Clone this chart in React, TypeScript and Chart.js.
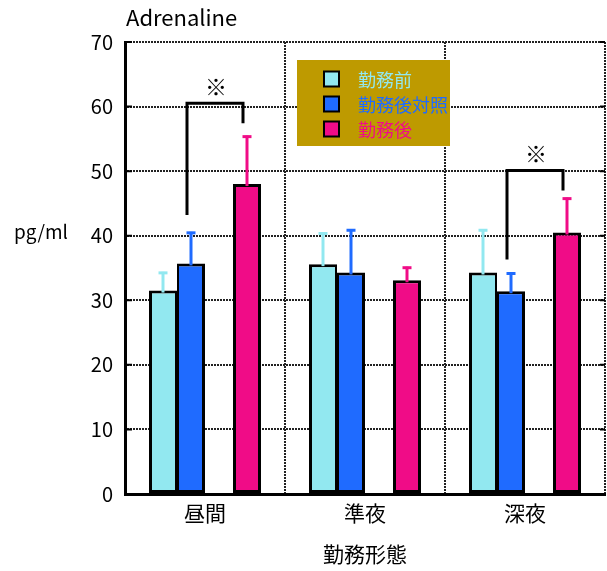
import React, { useEffect, useRef } from 'react';
import { Chart, registerables } from 'chart.js';

Chart.register(...registerables);

const categories = ['昼間', '準夜', '深夜'];
const seriesLabels = ['勤務前', '勤務後対照', '勤務後'];
const seriesColors = ['#92E8F0', '#1F6BFF', '#F00C87'];
const preValues = [31.5, 35.6, 34.3];
const controlValues = [35.7, 34.3, 31.4];
const postValues = [48.0, 33.1, 40.5];
const spacerValues = [null, null, null];
const preErrors = [2.9, 4.9, 6.7];
const controlErrors = [4.9, 6.7, 2.9];
const postErrors = [7.5, 2.1, 5.4];
const yMin = 0;
const yMax = 70;
const yStep = 10;
const bracketCategoryIndex = [0, 2];
const bracketTopValues = [60.5, 50.1];
const bracketLeftEndValues = [43.2, 36.3];
const bracketRightEndValues = [57.4, 47.0];
const bracketMark = '※';
const chartTitle = 'Adrenaline';
const yAxisTitle = 'pg/ml';
const xAxisTitle = '勤務形態';

const FONT = '"Noto Sans CJK JP", "Noto Sans", sans-serif';

// dataset index -> error array
const errorMap: Record<number, number[]> = { 0: preErrors, 1: controlErrors, 3: postErrors };

const errorBarPlugin = {
  id: 'errorBars',
  afterDatasetsDraw(chart: any) {
    const ctx = chart.ctx;
    const y = chart.scales.y;
    ctx.save();
    Object.keys(errorMap).forEach((k) => {
      const di = Number(k);
      const meta = chart.getDatasetMeta(di);
      const vals = chart.data.datasets[di].data as number[];
      const errs = errorMap[di];
      const color = chart.data.datasets[di].backgroundColor as string;
      meta.data.forEach((el: any, j: number) => {
        const v = vals[j];
        if (v == null) return;
        const top = y.getPixelForValue(v + errs[j]);
        const base = y.getPixelForValue(v) + 2;
        ctx.strokeStyle = color;
        ctx.lineWidth = 3;
        ctx.beginPath();
        ctx.moveTo(el.x, base);
        ctx.lineTo(el.x, top);
        ctx.stroke();
        ctx.beginPath();
        ctx.moveTo(el.x - 4.5, top + 1);
        ctx.lineTo(el.x + 4.5, top + 1);
        ctx.stroke();
      });
    });
    ctx.restore();
  },
};

const bracketPlugin = {
  id: 'brackets',
  afterDatasetsDraw(chart: any) {
    const ctx = chart.ctx;
    const y = chart.scales.y;
    const metaL = chart.getDatasetMeta(1);
    const metaR = chart.getDatasetMeta(3);
    ctx.save();
    ctx.strokeStyle = '#000';
    ctx.lineWidth = 3;
    ctx.lineCap = 'butt';
    bracketCategoryIndex.forEach((c, i) => {
      const xl = metaL.data[c].x - 4;
      const xr = metaR.data[c].x - 4;
      const yt = y.getPixelForValue(bracketTopValues[i]);
      const yl = y.getPixelForValue(bracketLeftEndValues[i]);
      const yr = y.getPixelForValue(bracketRightEndValues[i]);
      ctx.beginPath();
      ctx.moveTo(xl, yl);
      ctx.lineTo(xl, yt);
      ctx.lineTo(xr, yt);
      ctx.lineTo(xr, yr);
      ctx.stroke();
      ctx.fillStyle = '#000';
      ctx.font = `22px ${FONT}`;
      ctx.textAlign = 'center';
      ctx.textBaseline = 'middle';
      ctx.fillText(bracketMark, (xl + xr) / 2 + 1, yt - 17);
    });
    ctx.restore();
  },
};

const decorPlugin = {
  id: 'decor',
  afterDraw(chart: any) {
    const ctx = chart.ctx;
    const area = chart.chartArea;
    const y = chart.scales.y;
    ctx.save();
    // inward tick marks
    ctx.strokeStyle = '#000';
    ctx.lineWidth = 2;
    for (let v = yMin + yStep; v <= yMax; v += yStep) {
      const py = y.getPixelForValue(v);
      ctx.beginPath();
      ctx.moveTo(area.left, py);
      ctx.lineTo(area.left + 7, py);
      ctx.moveTo(area.right - 5, py);
      ctx.lineTo(area.right, py);
      ctx.stroke();
    }
    // title
    ctx.fillStyle = '#000';
    ctx.font = `22px ${FONT}`;
    ctx.textAlign = 'left';
    ctx.textBaseline = 'middle';
    ctx.fillText(chartTitle, area.left + 1, 18);
    // y axis title (horizontal)
    ctx.font = `19px ${FONT}`;
    ctx.fillText(yAxisTitle, 14, 232);
    // legend
    const lx = area.left + 172;
    const ly = 60;
    ctx.fillStyle = '#BE9A00';
    ctx.fillRect(lx, ly, 153, 86);
    ctx.font = `18px ${FONT}`;
    seriesLabels.forEach((lab, i) => {
      const cy = ly + 19 + i * 25;
      ctx.fillStyle = seriesColors[i];
      ctx.fillRect(lx + 27, cy - 7.5, 15, 15);
      ctx.strokeStyle = '#000';
      ctx.lineWidth = 2;
      ctx.strokeRect(lx + 27, cy - 7.5, 15, 15);
      ctx.fillStyle = seriesColors[i];
      ctx.textAlign = 'left';
      ctx.textBaseline = 'middle';
      ctx.fillText(lab, lx + 61, cy + 1);
    });
    ctx.restore();
  },
};

export default function App() {
  const canvasRef = useRef<HTMLCanvasElement | null>(null);

  useEffect(() => {
    document.body.style.margin = '0';
    const canvas = canvasRef.current;
    if (!canvas) return;
    const bw = (l: number, r: number) => ({ top: 3, left: l, right: r, bottom: 3 });
    const chart = new Chart(canvas, {
      type: 'bar',
      data: {
        labels: categories,
        datasets: [
          { label: seriesLabels[0], data: preValues, backgroundColor: seriesColors[0], borderColor: '#000', borderWidth: bw(3, 2), borderSkipped: false },
          { label: seriesLabels[1], data: controlValues, backgroundColor: seriesColors[1], borderColor: '#000', borderWidth: bw(2, 3), borderSkipped: false },
          { label: '', data: spacerValues as any, backgroundColor: 'transparent', borderWidth: 0 },
          { label: seriesLabels[2], data: postValues, backgroundColor: seriesColors[2], borderColor: '#000', borderWidth: bw(3, 3), borderSkipped: false },
        ],
      },
      options: {
        responsive: false,
        animation: false,
        devicePixelRatio: 1,
        layout: { padding: { top: 42, right: 2, left: 0, bottom: 0 } },
        plugins: {
          legend: { display: false },
          tooltip: { enabled: false },
          title: { display: false },
        },
        datasets: { bar: { categoryPercentage: 0.7, barPercentage: 1.0 } },
        scales: {
          x: {
            grid: { color: '#222', lineWidth: 2, drawTicks: false, offset: true },
            border: { display: true, color: '#000', width: 3, dash: [2, 1] },
            ticks: { color: '#000', font: { family: FONT, size: 21 }, padding: 6 },
            title: { display: true, text: xAxisTitle, color: '#000', font: { family: FONT, size: 21 }, padding: { top: 0, bottom: 4 } },
            afterFit: (s: any) => { s.height = 77; },
          },
          y: {
            min: yMin,
            max: yMax,
            ticks: { stepSize: yStep, color: '#000', font: { family: FONT, size: 20 }, padding: 12 },
            grid: { color: '#222', lineWidth: 2, drawTicks: false },
            border: { display: true, color: '#000', width: 3, dash: [2, 1] },
            afterFit: (s: any) => { s.width = 125; },
          },
        },
      },
      plugins: [errorBarPlugin, bracketPlugin, decorPlugin],
    });
    return () => chart.destroy();
  }, []);

  return (
    <div style={{ width: 607, height: 571 }}>
      <canvas ref={canvasRef} width={607} height={571} style={{ display: 'block', width: 607, height: 571 }} />
    </div>
  );
}
